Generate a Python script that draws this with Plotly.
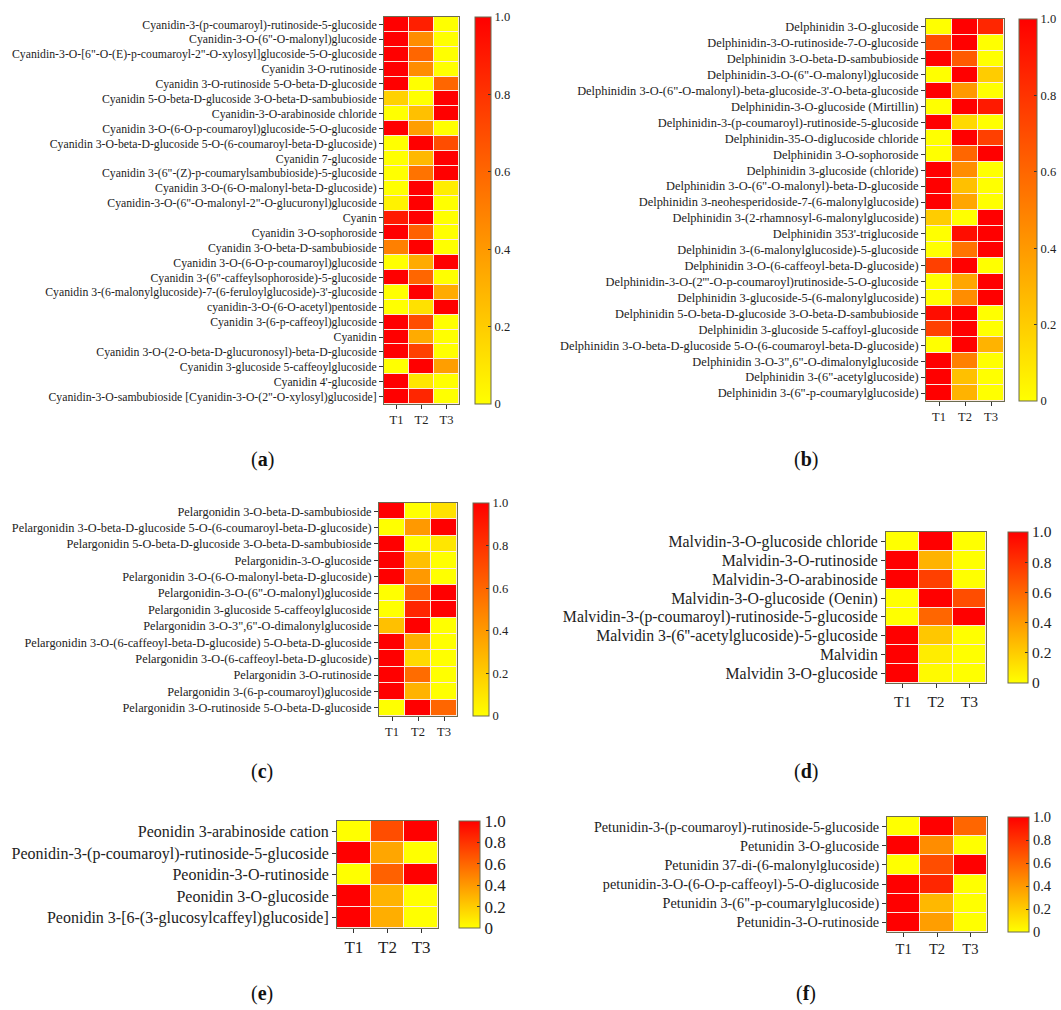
import plotly.graph_objects as go

treatments = ["T1", "T2", "T3"]

labels_a = [
    "Cyanidin-3-(p-coumaroyl)-rutinoside-5-glucoside",
    "Cyanidin-3-O-(6\"-O-malonyl)glucoside",
    "Cyanidin-3-O-[6\"-O-(E)-p-coumaroyl-2\"-O-xylosyl]glucoside-5-O-glucoside",
    "Cyanidin 3-O-rutinoside",
    "Cyanidin 3-O-rutinoside 5-O-beta-D-glucoside",
    "Cyanidin 5-O-beta-D-glucoside 3-O-beta-D-sambubioside",
    "Cyanidin-3-O-arabinoside chloride",
    "Cyanidin 3-O-(6-O-p-coumaroyl)glucoside-5-O-glucoside",
    "Cyanidin 3-O-beta-D-glucoside 5-O-(6-coumaroyl-beta-D-glucoside)",
    "Cyanidin 7-glucoside",
    "Cyanidin 3-(6\"-(Z)-p-coumarylsambubioside)-5-glucoside",
    "Cyanidin 3-O-(6-O-malonyl-beta-D-glucoside)",
    "Cyanidin-3-O-(6\"-O-malonyl-2\"-O-glucuronyl)glucoside",
    "Cyanin",
    "Cyanidin 3-O-sophoroside",
    "Cyanidin 3-O-beta-D-sambubioside",
    "Cyanidin 3-O-(6-O-p-coumaroyl)glucoside",
    "Cyanidin 3-(6\"-caffeylsophoroside)-5-glucoside",
    "Cyanidin 3-(6-malonylglucoside)-7-(6-feruloylglucoside)-3'-glucoside",
    "cyanidin-3-O-(6-O-acetyl)pentoside",
    "Cyanidin 3-(6-p-caffeoyl)glucoside",
    "Cyanidin",
    "Cyanidin 3-O-(2-O-beta-D-glucuronosyl)-beta-D-glucoside",
    "Cyanidin 3-glucoside 5-caffeoylglucoside",
    "Cyanidin 4'-glucoside",
    "Cyanidin-3-O-sambubioside [Cyanidin-3-O-(2\"-O-xylosyl)glucoside]",
]
values_a = [
    [1.0, 0.88, 0.0], [1.0, 0.45, 0.0], [1.0, 0.6, 0.0], [1.0, 0.45, 0.0],
    [1.0, 0.0, 0.6], [0.18, 0.0, 1.0], [0.0, 0.25, 1.0], [1.0, 0.38, 0.0],
    [0.0, 1.0, 0.7], [0.0, 0.28, 1.0], [0.0, 0.55, 1.0], [0.0, 1.0, 0.07],
    [0.05, 1.0, 0.0], [0.9, 1.0, 0.0], [1.0, 0.62, 0.0], [0.5, 1.0, 0.0],
    [0.0, 0.33, 1.0], [1.0, 0.6, 0.0], [0.0, 1.0, 0.33], [0.0, 0.12, 1.0],
    [1.0, 0.7, 0.0], [1.0, 0.33, 0.0], [1.0, 0.75, 0.0], [0.0, 1.0, 0.38],
    [1.0, 0.1, 0.0], [1.0, 0.85, 0.0],
]

labels_b = [
    "Delphinidin 3-O-glucoside",
    "Delphinidin-3-O-rutinoside-7-O-glucoside",
    "Delphinidin 3-O-beta-D-sambubioside",
    "Delphinidin-3-O-(6\"-O-malonyl)glucoside",
    "Delphinidin 3-O-(6\"-O-malonyl)-beta-glucoside-3'-O-beta-glucoside",
    "Delphinidin-3-O-glucoside (Mirtillin)",
    "Delphinidin-3-(p-coumaroyl)-rutinoside-5-glucoside",
    "Delphinidin-35-O-diglucoside chloride",
    "Delphinidin 3-O-sophoroside",
    "Delphinidin 3-glucoside (chloride)",
    "Delphinidin 3-O-(6\"-O-malonyl)-beta-D-glucoside",
    "Delphinidin 3-neohesperidoside-7-(6-malonylglucoside)",
    "Delphinidin 3-(2-rhamnosyl-6-malonylglucoside)",
    "Delphinidin 353'-triglucoside",
    "Delphinidin 3-(6-malonylglucoside)-5-glucoside",
    "Delphinidin 3-O-(6-caffeoyl-beta-D-glucoside)",
    "Delphinidin-3-O-(2'''-O-p-coumaroyl)rutinoside-5-O-glucoside",
    "Delphinidin 3-glucoside-5-(6-malonylglucoside)",
    "Delphinidin 5-O-beta-D-glucoside 3-O-beta-D-sambubioside",
    "Delphinidin 3-glucoside 5-caffoyl-glucoside",
    "Delphinidin 3-O-beta-D-glucoside 5-O-(6-coumaroyl-beta-D-glucoside)",
    "Delphinidin 3-O-3\",6\"-O-dimalonylglucoside",
    "Delphinidin 3-(6\"-acetylglucoside)",
    "Delphinidin 3-(6\"-p-coumarylglucoside)",
]
values_b = [
    [0.0, 1.0, 0.85], [0.7, 1.0, 0.0], [1.0, 0.65, 0.0], [0.0, 1.0, 0.2],
    [1.0, 0.4, 0.0], [0.0, 1.0, 0.9], [1.0, 0.15, 0.0], [0.0, 1.0, 0.75],
    [0.0, 0.6, 1.0], [1.0, 0.45, 0.0], [1.0, 0.25, 0.0], [1.0, 0.35, 0.0],
    [0.2, 0.0, 1.0], [0.0, 0.95, 1.0], [0.0, 0.55, 1.0], [0.75, 1.0, 0.0],
    [0.0, 0.35, 1.0], [0.0, 0.45, 1.0], [0.95, 1.0, 0.0], [0.75, 1.0, 0.0],
    [0.0, 1.0, 0.3], [1.0, 0.5, 0.0], [1.0, 0.25, 0.0], [1.0, 0.3, 0.0],
]

labels_c = [
    "Pelargonidin 3-O-beta-D-sambubioside",
    "Pelargonidin 3-O-beta-D-glucoside 5-O-(6-coumaroyl-beta-D-glucoside)",
    "Pelargonidin 5-O-beta-D-glucoside 3-O-beta-D-sambubioside",
    "Pelargonidin-3-O-glucoside",
    "Pelargonidin 3-O-(6-O-malonyl-beta-D-glucoside)",
    "Pelargonidin-3-O-(6\"-O-malonyl)glucoside",
    "Pelargonidin 3-glucoside 5-caffeoylglucoside",
    "Pelargonidin 3-O-3\",6\"-O-dimalonylglucoside",
    "Pelargonidin 3-O-(6-caffeoyl-beta-D-glucoside) 5-O-beta-D-glucoside",
    "Pelargonidin 3-O-(6-caffeoyl-beta-D-glucoside)",
    "Pelargonidin 3-O-rutinoside",
    "Pelargonidin 3-(6-p-coumaroyl)glucoside",
    "Pelargonidin 3-O-rutinoside 5-O-beta-D-glucoside",
]
values_c = [
    [1.0, 0.0, 0.12], [0.0, 0.4, 1.0], [1.0, 0.0, 0.1], [1.0, 0.25, 0.0],
    [1.0, 0.4, 0.0], [0.0, 0.6, 1.0], [0.0, 0.85, 1.0], [0.25, 1.0, 0.0],
    [1.0, 0.32, 0.0], [1.0, 0.15, 0.0], [1.0, 0.58, 0.0], [1.0, 0.3, 0.0],
    [0.0, 1.0, 0.6],
]

labels_d = [
    "Malvidin-3-O-glucoside chloride",
    "Malvidin-3-O-rutinoside",
    "Malvidin-3-O-arabinoside",
    "Malvidin-3-O-glucoside (Oenin)",
    "Malvidin-3-(p-coumaroyl)-rutinoside-5-glucoside",
    "Malvidin 3-(6''-acetylglucoside)-5-glucoside",
    "Malvidin",
    "Malvidin 3-O-glucoside",
]
values_d = [
    [0.0, 1.0, 0.0], [1.0, 0.3, 0.0], [1.0, 0.75, 0.0], [0.0, 1.0, 0.7],
    [0.0, 0.6, 1.0], [1.0, 0.22, 0.0], [1.0, 0.07, 0.0], [1.0, 0.02, 0.0],
]

labels_e = [
    "Peonidin 3-arabinoside cation",
    "Peonidin-3-(p-coumaroyl)-rutinoside-5-glucoside",
    "Peonidin-3-O-rutinoside",
    "Peonidin 3-O-glucoside",
    "Peonidin 3-[6-(3-glucosylcaffeyl)glucoside]",
]
values_e = [
    [0.0, 0.7, 1.0], [1.0, 0.35, 0.0], [0.0, 0.62, 1.0], [1.0, 0.3, 0.0],
    [1.0, 0.32, 0.0],
]

labels_f = [
    "Petunidin-3-(p-coumaroyl)-rutinoside-5-glucoside",
    "Petunidin 3-O-glucoside",
    "Petunidin 37-di-(6-malonylglucoside)",
    "petunidin-3-O-(6-O-p-caffeoyl)-5-O-diglucoside",
    "Petunidin 3-(6\"-p-coumarylglucoside)",
    "Petunidin-3-O-rutinoside",
]
values_f = [
    [0.0, 1.0, 0.6], [1.0, 0.45, 0.0], [0.0, 0.7, 1.0], [1.0, 0.85, 0.0],
    [1.0, 0.28, 0.0], [1.0, 0.38, 0.0],
]

cb_ticks = [0, 0.2, 0.4, 0.6, 0.8, 1.0]
cb_text = ["0", "0.2", "0.4", "0.6", "0.8", "1.0"]
panel_letters = ["a", "b", "c", "d", "e", "f"]

W, H = 1061, 1010
FONT = "Liberation Serif, Times New Roman, serif"

# pixel layout: (x0, x1, y0, y1) of heatmap, colorbar left, thickness, label font, cb font, letter pos
panels = [
    (labels_a, values_a, (384, 459, 17, 404), 475, 16, 11.75, 12.5, (262, 460)),
    (labels_b, values_b, (926, 1004, 19, 401), 1019, 18, 12.4, 12.5, (806, 460)),
    (labels_c, values_c, (379, 457, 503, 716), 473, 16, 12.3, 12.5, (262, 771)),
    (labels_d, values_d, (886, 986, 532, 683), 1008, 20, 15.8, 15.5, (806, 771)),
    (labels_e, values_e, (337, 438, 821, 928), 459, 21, 16, 17, (262, 993)),
    (labels_f, values_f, (887, 987, 817, 932), 1008, 21, 14.2, 14.5, (806, 993)),
]

colorscale = [[0.0, "#FFFF00"], [0.5, "#FF8000"], [1.0, "#FF0000"]]

fig = go.Figure()
layout = dict(
    width=W, height=H, margin=dict(l=0, r=0, t=0, b=0),
    paper_bgcolor="white", plot_bgcolor="#FBE9E0",
    font=dict(family=FONT, color="#222"),
    showlegend=False,
)
annotations = []
for i, (labs, vals, (x0, x1, y0, y1), cbx, cbt, lf, cf, (lx, ly)) in enumerate(panels):
    n = i + 1
    xa = "x" if n == 1 else f"x{n}"
    ya = "y" if n == 1 else f"y{n}"
    fig.add_trace(go.Heatmap(
        z=vals, x=treatments, y=labs, xaxis=xa, yaxis=ya,
        colorscale=colorscale, zmin=0, zmax=1, xgap=1, ygap=1,
        colorbar=dict(
            x=cbx / W, xanchor="left", xref="paper",
            y=1 - (y0 + y1) / 2 / H, yanchor="middle",
            len=(y1 - y0), lenmode="pixels", thickness=cbt, thicknessmode="pixels",
            xpad=0, ypad=0, outlinecolor="#6b6b50", outlinewidth=1,
            tickvals=cb_ticks, ticktext=cb_text, ticks="inside", ticklen=3,
            tickcolor="#333", tickfont=dict(family=FONT, size=cf, color="#222"),
        ),
    ))
    xkey = "xaxis" if n == 1 else f"xaxis{n}"
    ykey = "yaxis" if n == 1 else f"yaxis{n}"
    layout[xkey] = dict(
        domain=[x0 / W, x1 / W], anchor=ya, showline=True, mirror=True,
        linecolor="#6b6b50", linewidth=1, ticks="outside", ticklen=4,
        tickcolor="#333", showgrid=False, zeroline=False,
        tickfont=dict(family=FONT, size=cf, color="#222"),
    )
    layout[ykey] = dict(
        domain=[1 - y1 / H, 1 - y0 / H], anchor=xa, showline=True, mirror=True,
        linecolor="#6b6b50", linewidth=1, ticks="outside", ticklen=4,
        tickcolor="#333", showgrid=False, zeroline=False, autorange="reversed",
        tickmode="array", tickvals=labs, ticktext=labs,
        tickfont=dict(family=FONT, size=lf, color="#222"),
    )
    annotations.append(dict(
        x=lx / W, y=1 - ly / H, xref="paper", yref="paper",
        text=f"(<b>{panel_letters[i]}</b>)", showarrow=False,
        font=dict(family=FONT, size=20, color="#111"),
        xanchor="center", yanchor="middle",
    ))
layout["annotations"] = annotations
fig.update_layout(**layout)
fig.write_html(
    "out.html",
    config={"displayModeBar": False},
    post_script="document.body.style.margin='0px';document.body.style.overflow='hidden';",
)
